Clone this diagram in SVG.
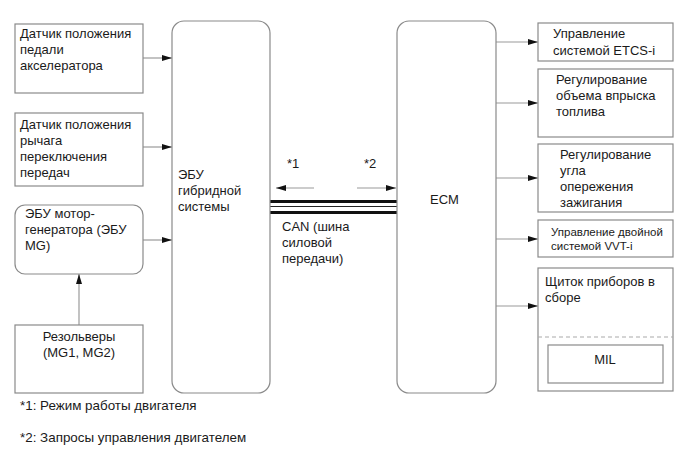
<svg xmlns="http://www.w3.org/2000/svg" width="691" height="465" viewBox="0 0 691 465">
<defs>
<marker id="ah" markerWidth="10" markerHeight="6" refX="10" refY="3" orient="auto" markerUnits="userSpaceOnUse">
<path d="M0,0 L10,3 L0,6 Z" fill="#111"/>
</marker>
</defs>
<style>
.box{fill:#fff;stroke:#8a8a8a;stroke-width:1.2}
.t{font-family:"Liberation Sans",Arial,sans-serif;font-size:13px;fill:#1a1a1a}
.s{font-size:11.5px}
.n{font-size:13.4px}
.c{fill:none;stroke:#9a9a9a;stroke-width:1.2}
</style>
<rect width="691" height="465" fill="#fff"/>
<g id="connectors">
<line class="c" x1="143" y1="58" x2="172" y2="58" marker-end="url(#ah)"/>
<line class="c" x1="143" y1="147" x2="172" y2="147" marker-end="url(#ah)"/>
<line class="c" x1="143" y1="240" x2="172" y2="240" marker-end="url(#ah)"/>
<line class="c" x1="79" y1="325" x2="79" y2="274" marker-end="url(#ah)"/>
<line class="c" x1="496" y1="42" x2="538" y2="42" marker-end="url(#ah)"/>
<line class="c" x1="496" y1="103" x2="538" y2="103" marker-end="url(#ah)"/>
<line class="c" x1="496" y1="178" x2="538" y2="178" marker-end="url(#ah)"/>
<line class="c" x1="496" y1="239" x2="538" y2="239" marker-end="url(#ah)"/>
<line class="c" x1="496" y1="306" x2="538" y2="306" marker-end="url(#ah)"/>
<line class="c" x1="314" y1="188" x2="276" y2="188" marker-end="url(#ah)"/>
<line class="c" x1="357" y1="188" x2="396" y2="188" marker-end="url(#ah)"/>
<g id="can-bus">
<line x1="270" y1="201.5" x2="397" y2="201.5" stroke="#111" stroke-width="3"/>
<line x1="270" y1="206.5" x2="397" y2="206.5" stroke="#222" stroke-width="1"/>
<line x1="270" y1="212.5" x2="397" y2="212.5" stroke="#111" stroke-width="3"/>
</g>
<text class="t" x="287" y="168">*1</text>
<text class="t" x="364" y="168">*2</text>
<text class="t" x="282" y="231">CAN (шина</text>
<text class="t" x="282" y="247">силовой</text>
<text class="t" x="282" y="263">передачи)</text>
</g>
<g id="accel-sensor">
<rect class="box" x="15" y="24" width="128" height="69"/>
<text class="t" x="20" y="38">Датчик положения</text>
<text class="t" x="20" y="54">педали</text>
<text class="t" x="20" y="70">акселератора</text>
</g>
<g id="shift-sensor">
<rect class="box" x="15" y="113" width="128" height="73"/>
<text class="t" x="20" y="129">Датчик положения</text>
<text class="t" x="20" y="145">рычага</text>
<text class="t" x="20" y="161">переключения</text>
<text class="t" x="20" y="177">передач</text>
</g>
<g id="mg-ecu">
<rect class="box" x="15" y="205" width="128" height="69" rx="10"/>
<text class="t" x="25" y="218">ЭБУ мотор-</text>
<text class="t" x="25" y="234">генератора (ЭБУ</text>
<text class="t" x="25" y="250">MG)</text>
</g>
<g id="resolvers">
<rect class="box" x="15" y="325" width="128" height="68"/>
<text class="t" x="79" y="341" text-anchor="middle" font-size="14">Резольверы</text>
<text class="t" x="79" y="357" text-anchor="middle" font-size="14">(MG1, MG2)</text>
</g>
<g id="hybrid-ecu">
<rect class="box" x="172" y="21" width="98" height="372" rx="12"/>
<text class="t" x="178" y="179">ЭБУ</text>
<text class="t" x="178" y="195">гибридной</text>
<text class="t" x="178" y="211">системы</text>
</g>
<g id="ecm">
<rect class="box" x="397" y="21" width="99" height="372" rx="12"/>
<text class="t" x="430" y="204">ECM</text>
</g>
<g id="etcs">
<rect class="box" x="538" y="23" width="135" height="38"/>
<text class="t" x="553" y="38">Управление</text>
<text class="t" x="553" y="55">системой ETCS-i</text>
</g>
<g id="injection">
<rect class="box" x="538" y="69" width="135" height="68"/>
<text class="t" x="556" y="84">Регулирование</text>
<text class="t" x="556" y="100">объема впрыска</text>
<text class="t" x="556" y="116">топлива</text>
</g>
<g id="ignition">
<rect class="box" x="538" y="144" width="135" height="68"/>
<text class="t" x="560" y="159">Регулирование</text>
<text class="t" x="560" y="175">угла</text>
<text class="t" x="560" y="191">опережения</text>
<text class="t" x="560" y="207">зажигания</text>
</g>
<g id="vvt">
<rect class="box" x="538" y="220" width="135" height="37"/>
<text class="t s" x="551" y="236">Управление двойной</text>
<text class="t s" x="551" y="250">системой VVT-i</text>
</g>
<g id="combination-meter">
<rect class="box" x="538" y="268" width="135" height="123"/>
<text class="t" x="545" y="286">Щиток приборов в</text>
<text class="t" x="545" y="302">сборе</text>
<line x1="538" y1="337" x2="673" y2="337" stroke="#aaa" stroke-width="1.2" stroke-dasharray="4,3"/>
<g id="mil">
<rect class="box" x="548" y="345" width="115" height="38"/>
<text class="t" x="605" y="364" text-anchor="middle">MIL</text>
</g>
</g>
<g id="notes">
<text class="t n" x="20" y="410">*1: Режим работы двигателя</text>
<text class="t n" x="20" y="442">*2: Запросы управления двигателем</text>
</g>
</svg>
